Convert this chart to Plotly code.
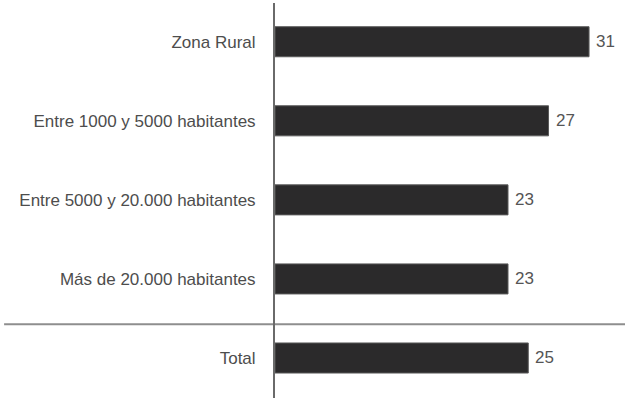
import plotly.graph_objects as go

categories = ["Zona Rural", "Entre 1000 y 5000 habitantes", "Entre 5000 y 20.000 habitantes",
              "Más de 20.000 habitantes", "Total"]
values = [31, 27, 23, 23, 25]

FONT = "Liberation Sans, Arial, sans-serif"

fig = go.Figure()
fig.add_trace(go.Bar(
    x=values, y=categories, orientation="h",
    width=0.38,
    marker=dict(color="#2b2a2b", line=dict(color="#5a5a5a", width=1)),
    hoverinfo="skip",
))

for c, v in zip(categories, values):
    fig.add_annotation(x=v, y=c, text=str(v), showarrow=False, xanchor="left",
                       xshift=5, font=dict(family=FONT, size=17, color="#555555"))

fig.add_shape(type="line", xref="paper", yref="paper", x0=-0.774, x1=1, y0=0.187, y1=0.187,
              line=dict(color="#8e8e8e", width=2), layer="below")

fig.update_layout(
    width=625, height=398,
    margin=dict(l=275, r=0, t=3, b=0),
    paper_bgcolor="white", plot_bgcolor="white",
    showlegend=False,
    font=dict(family=FONT, size=17, color="#4d4d4d"),
    xaxis=dict(range=[0, 34.55], visible=False, showgrid=False, zeroline=False),
    yaxis=dict(type="category", range=[4.506, -0.49], showgrid=False, zeroline=False,
               showline=True, linecolor="#6a6a6a", linewidth=2, ticks="",
               ticklabelstandoff=14, tickfont=dict(family=FONT, size=17, color="#4d4d4d")),
)

fig.write_html("out.html", config={"displayModeBar": False, "staticPlot": True},
               post_script="document.body.style.margin='0';document.body.style.overflow='hidden';")
